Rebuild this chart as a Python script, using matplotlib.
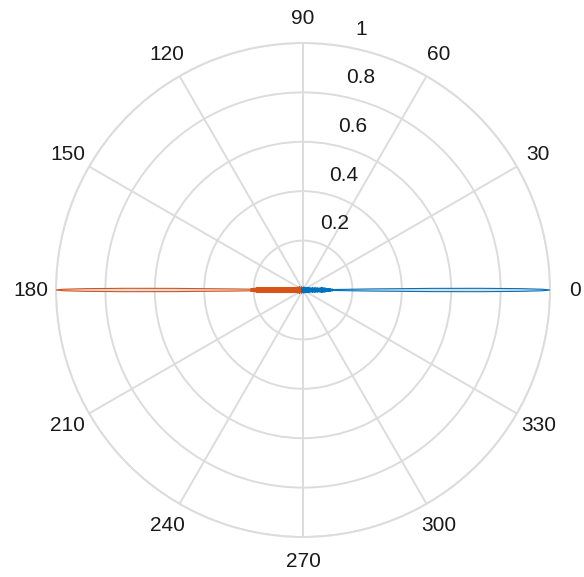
import numpy as np
import matplotlib
matplotlib.use("Agg")
import matplotlib.pyplot as plt
from matplotlib.transforms import offset_copy

# Half-pattern (symmetric about beam direction): offset angle in degrees, magnitude
blue_offset_deg = [0, 0.18, 0.36, 0.54, 0.72, 0.9, 1.08, 1.35, 1.6, 1.85, 2.1, 2.4, 2.7, 3.0,
                   3.4, 3.8, 4.2, 4.7, 5.2, 5.8, 6.4, 7.2, 8.0, 9.0, 10, 11.5, 13, 15, 17,
                   20, 23, 27, 32, 40, 50, 65, 80, 100, 120, 150, 180]
blue_mag = [1.0, 0.97, 0.88, 0.72, 0.52, 0.28, 0.0, 0.12, 0.0, 0.11, 0.0, 0.10, 0.0, 0.10,
            0.0, 0.09, 0.0, 0.09, 0.0, 0.08, 0.0, 0.06, 0.0, 0.05, 0.0, 0.04, 0.0, 0.03,
            0.0, 0.025, 0.0, 0.02, 0.0, 0.015, 0.0, 0.012, 0.0, 0.01, 0.0, 0.008, 0.0]

orange_offset_deg = [0, 0.18, 0.36, 0.54, 0.72, 0.9, 1.08, 1.35, 1.6, 1.85, 2.1, 2.4, 2.7, 3.0,
                     3.4, 3.8, 4.2, 4.7, 5.2, 5.8, 6.4, 7.2, 8.0, 9.0, 10, 11.5, 13, 15, 17,
                     20, 23, 27, 32, 40, 50, 65, 80, 100, 120, 150, 180]
orange_mag = [1.0, 0.97, 0.88, 0.72, 0.52, 0.28, 0.0, 0.21, 0.0, 0.20, 0.0, 0.19, 0.0, 0.18,
              0.0, 0.15, 0.0, 0.12, 0.0, 0.10, 0.0, 0.08, 0.0, 0.06, 0.0, 0.05, 0.0, 0.04,
              0.0, 0.03, 0.0, 0.025, 0.0, 0.02, 0.0, 0.015, 0.0, 0.012, 0.0, 0.01, 0.0]

blue_center_deg = 0
orange_center_deg = 180

theta_ticks = [0, 30, 60, 90, 120, 150, 180, 210, 240, 270, 300, 330]
r_ticks = [0.2, 0.4, 0.6, 0.8, 1.0]
r_labels = ["0.2", "0.4", "0.6", "0.8", "1"]

plt.rcParams['font.family'] = ['Liberation Sans', 'DejaVu Sans']

fig = plt.figure(figsize=(5.84, 5.77), dpi=100)
ax = fig.add_axes([0.0959, 0.0693, 0.8459, 0.8562], projection='polar')

grid_col = '#dcdcdc'


def full_pattern(center, offs, mags):
    offs = np.asarray(offs, dtype=float)
    mags = np.asarray(mags, dtype=float)
    ang = np.concatenate([-offs[::-1], offs[1:]]) + center
    r = np.concatenate([mags[::-1], mags[1:]])
    return np.deg2rad(ang), r


tb, rb = full_pattern(blue_center_deg, blue_offset_deg, blue_mag)
to, ro = full_pattern(orange_center_deg, orange_offset_deg, orange_mag)
ax.plot(to, ro, color='#D95319', lw=0.8, zorder=3)
ax.plot(tb, rb, color='#0072BD', lw=0.8, zorder=4)

ax.set_ylim(0, 1)
ax.set_xticks(np.deg2rad(theta_ticks))
ax.set_xticklabels([])
ax.set_yticks(r_ticks)
ax.set_yticklabels([])
ax.grid(True, color=grid_col, lw=1.4)
ax.spines['polar'].set_color(grid_col)
ax.spines['polar'].set_linewidth(1.4)
ax.tick_params(length=0)

for t in theta_ticks:
    ax.text(np.deg2rad(t), 1.1, str(t), ha='center', va='center', fontsize=15,
            color='#1a1a1a', clip_on=False)

off_tr = offset_copy(ax.transData, fig=fig, x=9, y=8, units='dots')
for r, lab in zip(r_ticks, r_labels):
    ax.text(np.deg2rad(80), r, lab, ha='left', va='bottom', fontsize=15,
            color='#1a1a1a', transform=off_tr, clip_on=False)

fig.savefig('out.png', dpi=100)
